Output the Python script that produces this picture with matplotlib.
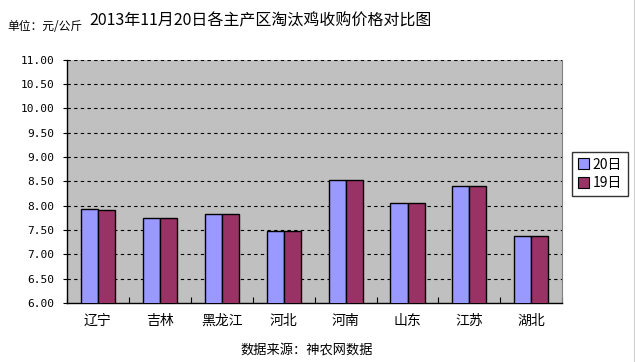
import matplotlib
matplotlib.use("Agg")
import matplotlib.pyplot as plt
import numpy as np
from matplotlib.lines import Line2D

plt.rcParams["font.family"] = ["Noto Sans CJK SC", "DejaVu Sans"]

regions = ["辽宁", "吉林", "黑龙江", "河北", "河南", "山东", "江苏", "湖北"]
price_20 = [7.94, 7.74, 7.83, 7.48, 8.52, 8.05, 8.40, 7.37]
price_19 = [7.92, 7.74, 7.83, 7.48, 8.52, 8.05, 8.40, 7.37]
series_labels = ["20日", "19日"]
y_ticks = [6.0, 6.5, 7.0, 7.5, 8.0, 8.5, 9.0, 9.5, 10.0, 10.5, 11.0]

BLUE = "#9999FF"
MAROON = "#993366"

fig = plt.figure(figsize=(6.35, 3.62), dpi=100)
ax = fig.add_axes([0.1055, 0.163, 0.780, 0.6725])
ax.set_facecolor("#C0C0C0")

x = np.arange(len(regions)) + 0.5
w = 0.275
ax.bar(x - w / 2, price_20, width=w, bottom=0, color=BLUE, edgecolor="black", linewidth=1.0, label=series_labels[0], zorder=3)
ax.bar(x + w / 2, price_19, width=w, bottom=0, color=MAROON, edgecolor="black", linewidth=1.0, label=series_labels[1], zorder=3)

ax.set_xlim(0, len(regions))
ax.set_ylim(6.0, 11.0)
ax.set_yticks(y_ticks)
ax.set_yticklabels([f"{v:.2f}" for v in y_ticks], family="DejaVu Sans Mono", fontsize=8)
for v in y_ticks[1:]:
    ax.axhline(v, color="black", linestyle=(0, (3, 3)), linewidth=0.8, zorder=2)

# category boundary ticks on the bottom axis, labels at centres
ax.set_xticks(np.arange(len(regions) + 1))
ax.set_xticklabels([])
ax.tick_params(axis="x", which="major", direction="in", length=4, width=0.8)
ax.set_xticks(x, minor=True)
ax.set_xticklabels(regions, minor=True, fontsize=10)
ax.tick_params(axis="x", which="minor", length=0, pad=8)
ax.tick_params(axis="y", direction="out", length=3, width=0.8, pad=6)

ax.spines["left"].set_linewidth(1.0)
ax.spines["bottom"].set_linewidth(1.0)
ax.spines["top"].set_visible(False)
ax.spines["right"].set_color("#808080")
ax.spines["right"].set_linestyle((0, (1, 1)))
ax.spines["right"].set_linewidth(0.8)

handles = [plt.Rectangle((0, 0), 1, 1, facecolor=c, edgecolor="black", linewidth=0.8) for c in (BLUE, MAROON)]
leg = fig.legend(handles, series_labels, loc="upper left", bbox_to_anchor=(572 / 635, 1 - 152 / 362),
                 fontsize=10, frameon=True, fancybox=False, edgecolor="black",
                 handlelength=0.8, handleheight=0.8, handletextpad=0.3, borderpad=0.4,
                 labelspacing=0.35, borderaxespad=0)
leg.get_frame().set_linewidth(1.0)

fig.text(7 / 635, 1 - 26 / 362, "单位：元/公斤", fontsize=8.5, va="center", ha="left")
fig.text(261 / 635, 1 - 21 / 362, "2013年11月20日各主产区淘汰鸡收购价格对比图", fontsize=11.5, va="center", ha="center")
fig.text(307 / 635, 1 - 350 / 362, "数据来源：神农网数据", fontsize=9.5, va="center", ha="center")

fig.add_artist(Line2D([634.5 / 635, 634.5 / 635], [0, 1], color="black", linewidth=1.0, transform=fig.transFigure))

fig.savefig("out.png", dpi=100)
